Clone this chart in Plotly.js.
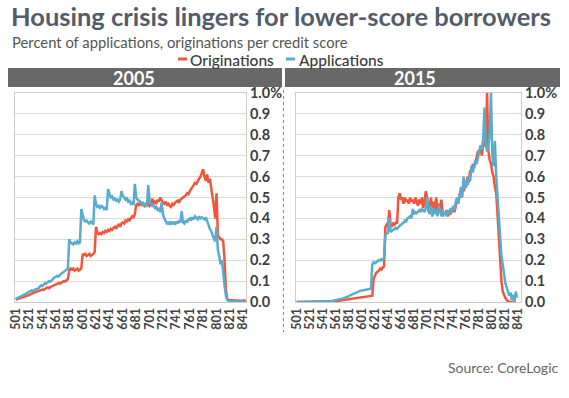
<!DOCTYPE html>
<html>
<head>
<meta charset="utf-8">
<script src="https://cdn.plot.ly/plotly-3.0.1.min.js"></script>
<style>
  html, body { margin: 0; padding: 0; background: #ffffff; }
  #chart { width: 569px; height: 398px; }
</style>
</head>
<body>
<div id="chart"></div>
<script>
// Credit scores (x categories): 501, 503, ..., 845
const scoreStart = 501, scoreEnd = 845, scoreStep = 2;
const scores = [];
for (let s = scoreStart; s <= scoreEnd; s += scoreStep) scores.push(s);

const xTickVals = [501,521,541,561,581,601,621,641,661,681,701,721,741,761,781,801,821,841];
const xTickText = ["501","521","541","561","581","601","621","641","661","681","701","721","741","761","781","801","821","841"];
const yTickVals = [0,0.1,0.2,0.3,0.4,0.5,0.6,0.7,0.8,0.9,1.0];
const yTickText = ["0.0","0.1","0.2","0.3","0.4","0.5","0.6","0.7","0.8","0.9","1.0%"];

const panelTitles = ["2005", "2015"];
const seriesNames = ["Originations", "Applications"];

// 2005 originations (% of originations per credit score), one row per 20 points of score
const orig2005 = [
  0.012,0.014,0.015,0.017,0.018,0.02,0.022,0.025,0.027,0.03,
  0.033,0.036,0.04,0.042,0.045,0.048,0.05,0.052,0.055,0.058,
  0.06,0.058,0.065,0.068,0.07,0.066,0.072,0.075,0.078,0.08,
  0.082,0.085,0.09,0.088,0.092,0.095,0.1,0.098,0.105,0.11,
  0.15,0.16,0.155,0.16,0.15,0.155,0.16,0.15,0.155,0.16,
  0.23,0.225,0.23,0.22,0.225,0.23,0.22,0.225,0.23,0.24,
  0.36,0.33,0.325,0.33,0.325,0.335,0.33,0.34,0.335,0.345,
  0.34,0.35,0.345,0.355,0.36,0.35,0.365,0.37,0.36,0.375,
  0.38,0.375,0.39,0.385,0.395,0.39,0.4,0.41,0.405,0.42,
  0.465,0.47,0.46,0.475,0.465,0.47,0.46,0.47,0.465,0.47,
  0.46,0.47,0.495,0.475,0.48,0.47,0.49,0.48,0.5,0.485,
  0.475,0.47,0.48,0.465,0.47,0.46,0.455,0.47,0.465,0.475,
  0.48,0.485,0.475,0.49,0.495,0.5,0.505,0.51,0.52,0.515,
  0.53,0.54,0.55,0.56,0.57,0.565,0.58,0.59,0.6,0.615,
  0.635,0.6,0.58,0.61,0.57,0.59,0.55,0.5,0.46,0.4,
  0.52,0.32,0.31,0.3,0.3,0.29,0.2,0.06,0.015,0.01,
  0.01,0.009,0.008,0.009,0.007,0.008,0.006,0.007,0.006,0.005,
  0.008,0.006,0.005
];

// 2005 applications
const apps2005 = [
  0.015,0.018,0.02,0.022,0.025,0.028,0.032,0.035,0.04,0.045,
  0.048,0.05,0.055,0.052,0.058,0.062,0.06,0.068,0.072,0.08,
  0.076,0.085,0.09,0.088,0.095,0.1,0.098,0.105,0.11,0.118,
  0.12,0.125,0.122,0.13,0.135,0.14,0.145,0.15,0.155,0.16,
  0.3,0.285,0.28,0.275,0.285,0.28,0.29,0.28,0.285,0.445,
  0.42,0.39,0.385,0.39,0.38,0.375,0.385,0.38,0.37,0.51,
  0.47,0.455,0.46,0.45,0.46,0.455,0.445,0.45,0.44,0.54,
  0.52,0.5,0.505,0.49,0.495,0.485,0.49,0.48,0.49,0.53,
  0.51,0.5,0.49,0.5,0.48,0.485,0.47,0.475,0.465,0.565,
  0.5,0.49,0.485,0.48,0.47,0.475,0.46,0.47,0.455,0.56,
  0.48,0.47,0.46,0.465,0.45,0.455,0.44,0.445,0.43,0.475,
  0.42,0.4,0.385,0.375,0.38,0.37,0.385,0.375,0.38,0.37,
  0.385,0.375,0.39,0.38,0.435,0.38,0.375,0.39,0.38,0.395,
  0.4,0.39,0.405,0.395,0.41,0.4,0.395,0.41,0.4,0.405,
  0.4,0.395,0.405,0.39,0.37,0.35,0.34,0.32,0.3,0.29,
  0.36,0.25,0.22,0.18,0.2,0.12,0.08,0.03,0.01,0.005,
  0.003,0.002,0.004,0.002,0.003,0.002,0.001,0.002,0.003,0.002,
  0.001,0.002,0.001
];

// 2015 originations
const orig2015 = [
  0,0,0,0,0,0,0,0,0,0,
  0,0,0,0,0,0,0,0,0,0,
  0,0,0,0,0,0,0.001,0.002,0.002,0.003,
  0.004,0.005,0.006,0.006,0.008,0.009,0.01,0.011,0.012,0.013,
  0.014,0.015,0.016,0.016,0.018,0.019,0.02,0.021,0.022,0.022,
  0.023,0.024,0.025,0.026,0.026,0.027,0.028,0.029,0.03,0.11,
  0.13,0.14,0.145,0.15,0.16,0.155,0.165,0.17,0.36,0.37,
  0.36,0.44,0.37,0.36,0.375,0.37,0.38,0.375,0.5,0.52,
  0.49,0.5,0.47,0.5,0.48,0.49,0.47,0.5,0.48,0.49,
  0.47,0.5,0.48,0.46,0.49,0.47,0.5,0.45,0.48,0.53,
  0.5,0.43,0.46,0.5,0.41,0.48,0.44,0.5,0.42,0.47,
  0.45,0.49,0.41,0.43,0.42,0.44,0.41,0.43,0.42,0.44,
  0.45,0.43,0.47,0.49,0.48,0.52,0.5,0.55,0.53,0.57,
  0.55,0.6,0.57,0.63,0.62,0.66,0.64,0.67,0.7,0.72,
  0.72,0.74,0.7,0.76,0.78,0.74,1.0,0.72,0.68,0.66,
  0.62,0.6,0.55,0.52,0.42,0.3,0.2,0.1,0.05,0.03,
  0.02,0.01,0.005,0,0,0,0,0,null,null,
  null,null,null
];

// 2015 applications
const apps2015 = [
  0,0,0,0,0,0,0,0,0,0,
  0,0,0,0,0,0,0,0,0,0,
  0,0,0,0.001,0.002,0.003,0.004,0.005,0.006,0.008,
  0.008,0.01,0.012,0.013,0.015,0.016,0.018,0.02,0.022,0.025,
  0.028,0.032,0.035,0.038,0.042,0.045,0.048,0.05,0.052,0.054,
  0.055,0.056,0.058,0.057,0.06,0.058,0.062,0.065,0.18,0.19,
  0.185,0.19,0.195,0.2,0.198,0.205,0.2,0.21,0.32,0.33,
  0.33,0.4,0.335,0.34,0.345,0.35,0.355,0.35,0.36,0.365,
  0.37,0.375,0.38,0.39,0.385,0.4,0.405,0.41,0.4,0.445,
  0.42,0.43,0.425,0.435,0.44,0.43,0.445,0.44,0.43,0.45,
  0.5,0.44,0.42,0.46,0.41,0.45,0.42,0.44,0.41,0.46,
  0.43,0.41,0.44,0.42,0.43,0.41,0.44,0.42,0.45,0.43,
  0.46,0.44,0.48,0.5,0.47,0.52,0.55,0.5,0.6,0.54,
  0.58,0.56,0.6,0.58,0.65,0.62,0.66,0.68,0.66,0.7,
  0.72,0.75,0.73,0.78,0.93,0.76,0.72,0.75,0.8,1.0,
  0.7,0.65,0.77,0.6,0.5,0.38,0.3,0.22,0.18,0.12,
  0.09,0.07,0.05,0.03,0.045,0.01,0.035,0.0,0.05,0.02,
  null,null,null
];

const RED = "#f2553a";
const BLUE = "#5aaccd";
const W = 569, H = 398;
const px = v => v / W;
const py = v => 1 - v / H;

function lineTrace(y, name, color, xa, ya) {
  return { x: scores, y: y, name: name, type: "scatter", mode: "lines",
    line: { color: color, width: 2.5 }, xaxis: xa, yaxis: ya,
    connectgaps: false, hoverinfo: "skip" };
}

const data = [
  lineTrace(orig2005, seriesNames[0], RED, "x", "y"),
  lineTrace(apps2005, seriesNames[1], BLUE, "x", "y"),
  lineTrace(orig2015, seriesNames[0], RED, "x2", "y2"),
  lineTrace(apps2015, seriesNames[1], BLUE, "x2", "y2")
];

function xAxis(domain, anchor) {
  return { domain: domain, anchor: anchor, range: [500, 845],
    tickvals: xTickVals, ticktext: xTickText, tickangle: -90,
    tickfont: { family: "Lato", size: 12.5, color: "#444444", weight: 700 },
    showgrid: false, zeroline: false, showline: true, mirror: true,
    linecolor: "#cccccc", linewidth: 1, ticks: "", fixedrange: true };
}
function yAxis(domain, anchor) {
  return { domain: domain, anchor: anchor, side: "right", range: [0, 1.0],
    tickvals: yTickVals, ticktext: yTickText,
    tickfont: { family: "Lato", size: 14.5, color: "#3d3d3d", weight: 700 },
    showgrid: true, gridcolor: "#dadada", gridwidth: 1, zeroline: false,
    showline: true, mirror: true, linecolor: "#cccccc", linewidth: 1,
    ticks: "", fixedrange: true };
}

const layout = {
  width: W, height: H,
  margin: { l: 0, r: 0, t: 0, b: 0, pad: 0 },
  paper_bgcolor: "#ffffff", plot_bgcolor: "#ffffff",
  showlegend: false,
  font: { family: "Lato", color: "#444444" },
  xaxis: xAxis([px(15), px(246)], "y"),
  yaxis: yAxis([py(302), py(93)], "x"),
  xaxis2: xAxis([px(296), px(521)], "y2"),
  yaxis2: yAxis([py(302), py(93)], "x2"),
  shapes: [
    { type: "rect", xref: "paper", yref: "paper", x0: px(8), x1: px(282), y0: py(87), y1: py(68),
      fillcolor: "#686868", line: { width: 0 }, layer: "below" },
    { type: "rect", xref: "paper", yref: "paper", x0: px(285), x1: px(560), y0: py(87), y1: py(68),
      fillcolor: "#686868", line: { width: 0 }, layer: "below" },
    { type: "line", xref: "paper", yref: "paper", x0: px(283.5), x1: px(283.5), y0: py(90), y1: py(332),
      line: { color: "#8a8a8a", width: 1, dash: "dot" } },
    { type: "line", xref: "paper", yref: "paper", x0: px(178), x1: px(187), y0: py(59), y1: py(59),
      line: { color: RED, width: 3 } },
    { type: "line", xref: "paper", yref: "paper", x0: px(286), x1: px(295), y0: py(59), y1: py(59),
      line: { color: BLUE, width: 3 } }
  ],
  annotations: [
    { text: "Housing crisis lingers for lower-score borrowers", xref: "paper", yref: "paper",
      x: px(9), y: py(16), xanchor: "left", yanchor: "middle", showarrow: false,
      font: { family: "Lato", size: 25.5, color: "#535c69", weight: 700 } },
    { text: "Percent of applications, originations per credit score", xref: "paper", yref: "paper",
      x: px(10), y: py(41.5), xanchor: "left", yanchor: "middle", showarrow: false,
      font: { family: "Lato", size: 14.8, color: "#555555" } },
    { text: seriesNames[0], xref: "paper", yref: "paper",
      x: px(188), y: py(59.5), xanchor: "left", yanchor: "middle", showarrow: false,
      font: { family: "Lato", size: 15.5, color: "#3a3a3a", weight: 500 } },
    { text: seriesNames[1], xref: "paper", yref: "paper",
      x: px(297), y: py(59.5), xanchor: "left", yanchor: "middle", showarrow: false,
      font: { family: "Lato", size: 15.5, color: "#3a3a3a", weight: 500 } },
    { text: panelTitles[0], xref: "paper", yref: "paper",
      x: px(134), y: py(77.5), xanchor: "center", yanchor: "middle", showarrow: false,
      font: { family: "Lato", size: 18, color: "#ffffff", weight: 700 } },
    { text: panelTitles[1], xref: "paper", yref: "paper",
      x: px(415), y: py(77.5), xanchor: "center", yanchor: "middle", showarrow: false,
      font: { family: "Lato", size: 18, color: "#ffffff", weight: 700 } },
    { text: "Source: CoreLogic", xref: "paper", yref: "paper",
      x: px(561), y: py(367), xanchor: "right", yanchor: "middle", showarrow: false,
      font: { family: "Lato", size: 14, color: "#666666" } }
  ]
};

Plotly.newPlot("chart", data, layout, { staticPlot: true, displayModeBar: false });
</script>
</body>
</html>
